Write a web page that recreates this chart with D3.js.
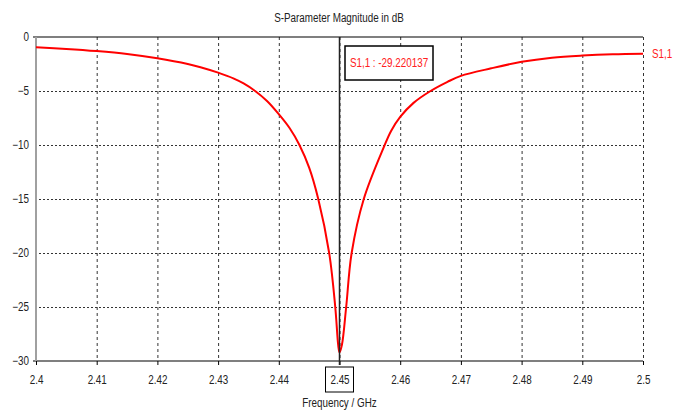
<!DOCTYPE html>
<html>
<head>
<meta charset="utf-8">
<script src="https://cdn.jsdelivr.net/npm/d3@7/dist/d3.min.js"></script>
<style>
  body { margin: 0; background: #fff; }
  svg { display: block; }
  text { font-family: "Liberation Sans", Arial, sans-serif; font-size: 12px; }
</style>
</head>
<body>
<svg class="chart" width="685" height="410"></svg>
<script>
// frequency (GHz) and S1,1 (dB)
var freq = [2.400, 2.405, 2.410, 2.415, 2.420, 2.425, 2.4271, 2.430, 2.4326, 2.4342,
            2.4361, 2.4381, 2.440, 2.4418, 2.4434, 2.445, 2.4465, 2.4483, 2.4493, 2.4498,
            2.4500, 2.4504, 2.4511, 2.4520, 2.4540, 2.4573, 2.4585, 2.460, 2.4622, 2.465,
            2.4678, 2.470, 2.475, 2.480, 2.485, 2.490, 2.495, 2.500];
var s11 = [-0.95, -1.10, -1.30, -1.57, -1.97, -2.5, -2.8, -3.3, -3.85, -4.3,
           -5.0, -5.95, -7.15, -8.45, -10.0, -12.1, -15.0, -20.0, -25.0, -28.6,
           -29.22, -28.5, -25.0, -20.0, -15.0, -10.2, -8.7, -7.4, -6.1, -5.0,
           -4.15, -3.6, -2.9, -2.3, -1.92, -1.72, -1.60, -1.55];
var xTicks = [2.4, 2.41, 2.42, 2.43, 2.44, 2.45, 2.46, 2.47, 2.48, 2.49, 2.5];
var yTicks = [0, -5, -10, -15, -20, -25, -30];
var markerFreq = 2.45;
var markerValue = "-29.220137";
var seriesName = "S1,1";

var pLeft = 36, pRight = 643, pTop = 37, pBottom = 361;

var chart = d3.select(".chart");

var xScale = d3.scaleLinear().domain([2.4, 2.5]).range([pLeft, pRight]);
var yScale = d3.scaleLinear().domain([-30, 0]).range([pBottom, pTop]);

var data = freq.map(function(f, i) { return {f: f, v: s11[i]}; });

// the original uses a narrow font; squeeze each text a bit
function narrow(sel) {
  sel.each(function() {
    var w = this.getComputedTextLength();
    if (w > 0) d3.select(this).attr("textLength", w * 0.82).attr("lengthAdjust", "spacingAndGlyphs");
  });
}

// title
chart.append("text")
    .attr("x", 339).attr("y", 22)
    .style("text-anchor", "middle")
    .style("fill", "#222")
    .text("S-Parameter Magnitude in dB")
    .call(narrow);

// vertical grid (dashed)
chart.append("g")
    .attr("transform", "translate(0," + pTop + ")")
    .call(d3.axisBottom(xScale).tickValues(xTicks.slice(1)).tickSize(pBottom - pTop).tickFormat(""))
    .call(function(g) { g.select(".domain").remove(); })
    .selectAll("line")
      .attr("stroke", "#333")
      .attr("stroke-dasharray", "3,3");

// horizontal grid (dotted)
chart.append("g")
    .attr("transform", "translate(" + (pLeft - 1) + ",0)")
    .call(d3.axisRight(yScale).tickValues(yTicks.slice(1, -1)).tickSize(pRight - pLeft).tickFormat(""))
    .call(function(g) { g.select(".domain").remove(); })
    .selectAll("line")
      .attr("stroke", "#333")
      .attr("stroke-dasharray", "2,2");

// top and bottom borders
chart.append("line")
    .attr("x1", pLeft - 3).attr("x2", pRight)
    .attr("y1", yScale(0)).attr("y2", yScale(0))
    .attr("stroke", "#000").attr("stroke-width", 1.2);
chart.append("line")
    .attr("x1", pLeft - 3).attr("x2", pRight)
    .attr("y1", yScale(-30)).attr("y2", yScale(-30))
    .attr("stroke", "#000").attr("stroke-width", 1.2);

// x axis
var xAxis = chart.append("g")
    .attr("transform", "translate(0," + pBottom + ")")
    .call(d3.axisBottom(xScale).tickValues(xTicks).tickSizeInner(4).tickSizeOuter(0)
      .tickFormat(function(d) { return String(+d.toFixed(2)); }));
xAxis.select(".domain").remove();
xAxis.attr("font-family", null);
xAxis.selectAll("line").attr("stroke", "#000");
xAxis.selectAll("text").attr("y", 19).attr("dy", "0.32em")
    .style("font-size", "12px").style("fill", "#222")
    .call(narrow);

// y axis labels
var yAxis = chart.append("g")
    .attr("transform", "translate(" + pLeft + ",0)")
    .call(d3.axisLeft(yScale).tickValues(yTicks).tickSize(0).tickPadding(7));
yAxis.select(".domain").remove();
yAxis.attr("font-family", null);
yAxis.selectAll("text").style("font-size", "12px").style("fill", "#222").call(narrow);

// left axis line (grey)
chart.append("line")
    .attr("x1", pLeft).attr("x2", pLeft)
    .attr("y1", pTop).attr("y2", pBottom)
    .attr("stroke", "#a0a0a0").attr("stroke-width", 2);

// x label
chart.append("text")
    .attr("x", xScale(2.45)).attr("y", 407)
    .style("text-anchor", "middle")
    .style("fill", "#222")
    .text("Frequency / GHz")
    .call(narrow);

// curve
var line = d3.line()
    .x(function(d) { return xScale(d.f); })
    .y(function(d) { return yScale(d.v); })
    .curve(d3.curveCatmullRom.alpha(0.5));

chart.append("path")
    .datum(data)
    .attr("fill", "none")
    .attr("stroke", "#ff0000")
    .attr("stroke-width", 2)
    .attr("d", line);

// legend
chart.append("text")
    .attr("x", 652).attr("y", yScale(s11[s11.length - 1]))
    .attr("dy", "0.35em")
    .style("fill", "#ff2020")
    .text(seriesName)
    .call(narrow);

// marker
var mx = xScale(markerFreq);
chart.append("line")
    .attr("x1", mx).attr("x2", mx)
    .attr("y1", pTop).attr("y2", pBottom + 4)
    .attr("stroke", "#222").attr("stroke-width", 1.5);

chart.append("rect")
    .attr("x", mx - 14).attr("y", 367)
    .attr("width", 28).attr("height", 25)
    .attr("fill", "none").attr("stroke", "#000").attr("stroke-width", 1);

chart.append("rect")
    .attr("x", 345).attr("y", 46)
    .attr("width", 88).attr("height", 34)
    .attr("fill", "#fff").attr("stroke", "#000").attr("stroke-width", 1.5);

chart.append("text")
    .attr("x", 389).attr("y", 63)
    .attr("dy", "0.35em")
    .style("text-anchor", "middle")
    .style("fill", "#ff2020")
    .text(seriesName + " : " + markerValue)
    .call(narrow);
</script>
</body>
</html>
